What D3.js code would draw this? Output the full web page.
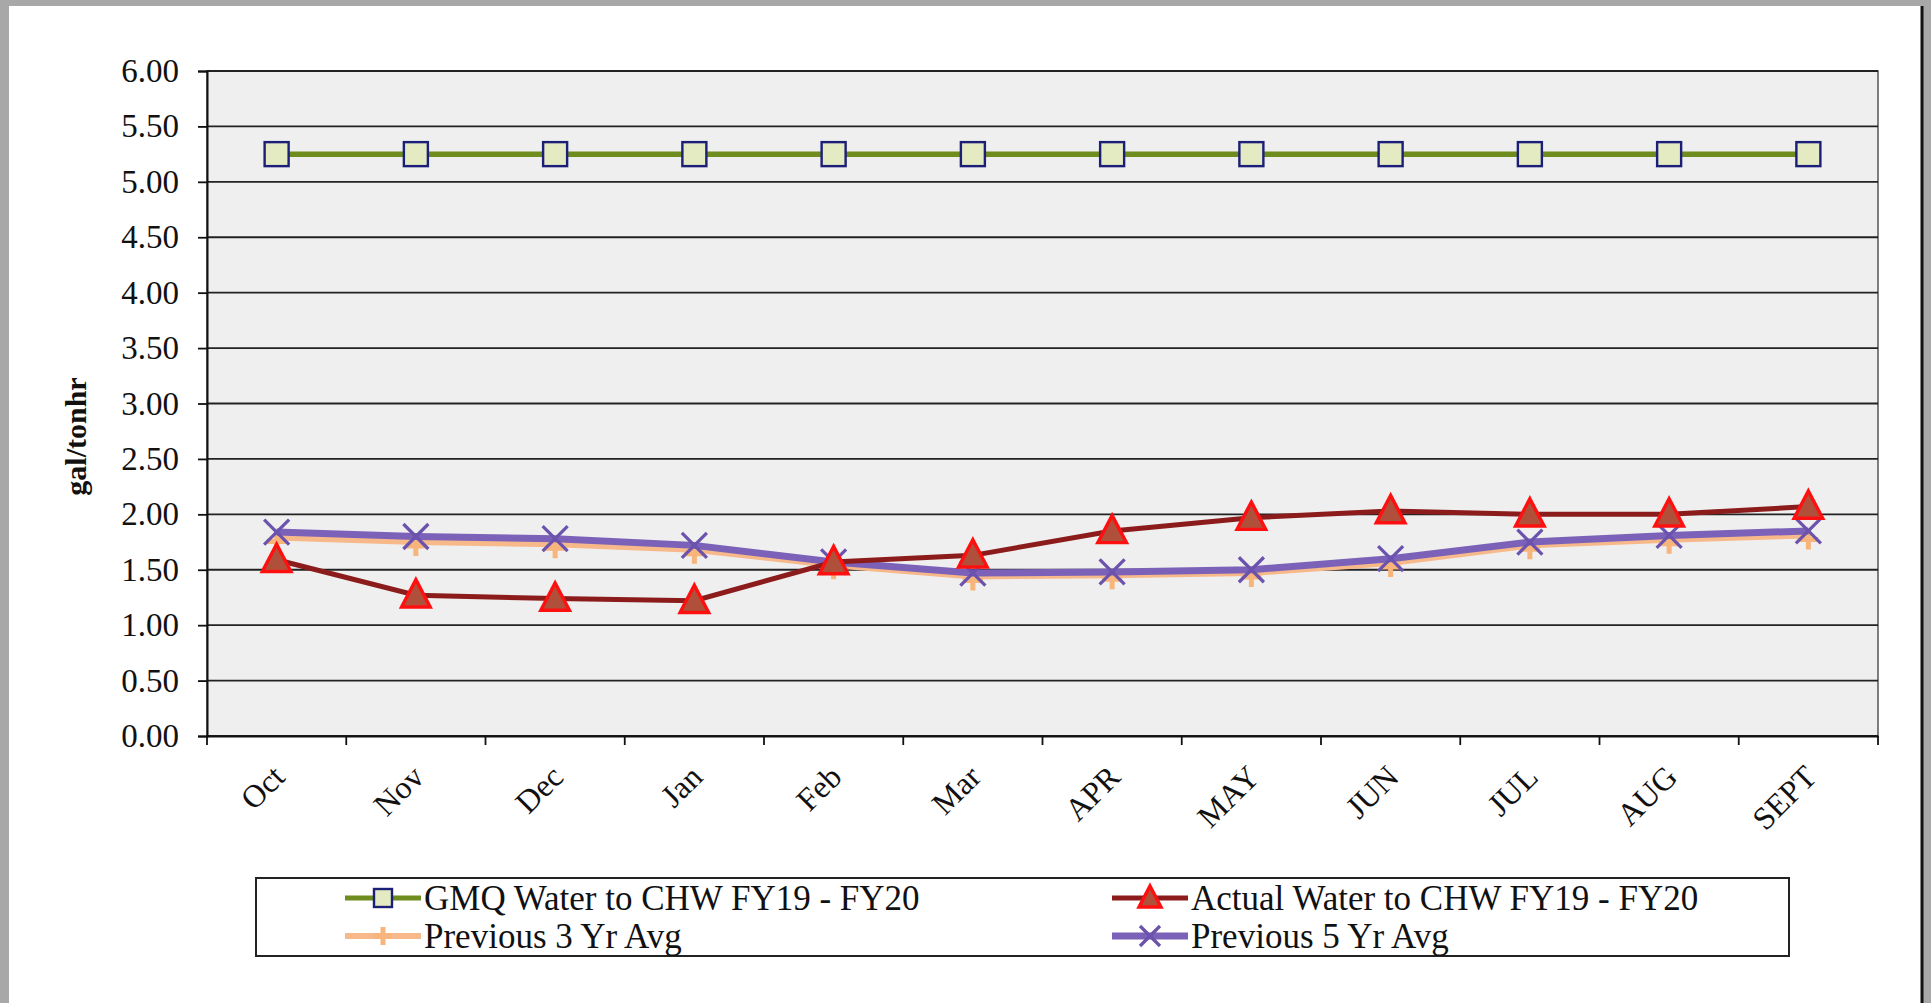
<!DOCTYPE html>
<html>
<head>
<meta charset="utf-8">
<script src="https://cdn.jsdelivr.net/npm/d3@7"></script>
<style>
  body { margin: 0; background: #a8a8a8; }
  svg { display: block; }
</style>
</head>
<body>
<svg id="svg"></svg>
<script>
// months of the fiscal year
const months = ["Oct", "Nov", "Dec", "Jan", "Feb", "Mar", "APR", "MAY", "JUN", "JUL", "AUG", "SEPT"];
const yTicks = [0, 0.5, 1, 1.5, 2, 2.5, 3, 3.5, 4, 4.5, 5, 5.5, 6];

// series values (gal/tonhr)
const gmq = [5.25, 5.25, 5.25, 5.25, 5.25, 5.25, 5.25, 5.25, 5.25, 5.25, 5.25, 5.25];
const actual = [1.59, 1.27, 1.24, 1.22, 1.57, 1.63, 1.85, 1.97, 2.03, 2.00, 2.00, 2.07];
const avg3 = [1.79, 1.75, 1.73, 1.68, 1.54, 1.44, 1.45, 1.47, 1.56, 1.72, 1.77, 1.81];
const avg5 = [1.84, 1.80, 1.78, 1.72, 1.57, 1.47, 1.48, 1.50, 1.60, 1.75, 1.81, 1.85];

const seriesNames = ["GMQ Water to CHW FY19 - FY20", "Actual Water to CHW FY19 - FY20", "Previous 3 Yr Avg", "Previous 5 Yr Avg"];

let width = 1931;
let height = 1003;
let svg = d3.select("#svg").attr("width", width).attr("height", height);

const font = "'Liberation Serif', 'Times New Roman', serif";

// page frame
svg.append("rect").attr("x", 0).attr("y", 0).attr("width", width).attr("height", height).attr("fill", "#a8a8a8");
svg.append("rect").attr("x", 9).attr("y", 6).attr("width", 1914).attr("height", height - 6).attr("fill", "#ffffff");
svg.append("line").attr("x1", 1922).attr("x2", 1922).attr("y1", 6).attr("y2", height)
    .attr("stroke", "#111").attr("stroke-width", 3);

let margin = { left: 207, right: 1878, top: 71, bottom: 736 };

let x = d3.scaleBand()
    .domain(months)
    .range([margin.left, margin.right]);

let y = d3.scaleLinear()
    .domain([0, 6])
    .range([margin.bottom, margin.top]);

// plot area
svg.append("rect")
    .attr("x", margin.left).attr("y", margin.top)
    .attr("width", margin.right - margin.left).attr("height", margin.bottom - margin.top)
    .attr("fill", "#efefef")
    .attr("stroke", "#555").attr("stroke-width", 1.5);

// gridlines
svg.append("g").selectAll("line")
    .data(yTicks)
    .join("line")
    .attr("x1", margin.left).attr("x2", margin.right)
    .attr("y1", d => y(d)).attr("y2", d => y(d))
    .attr("stroke", "#222").attr("stroke-width", 1.8);

// y axis
let yAxis = svg.append("g")
    .attr("transform", `translate(${margin.left},0)`)
    .call(d3.axisLeft(y).tickValues(yTicks).tickFormat(d3.format(".2f")).tickSize(9).tickPadding(19));
yAxis.select(".domain").attr("stroke", "#111").attr("stroke-width", 2);
yAxis.selectAll(".tick line").attr("stroke", "#111").attr("stroke-width", 1.8);
yAxis.selectAll(".tick text")
    .attr("font-family", font).attr("font-size", 33).attr("fill", "#111");

// x axis
let xAxis = svg.append("g")
    .attr("transform", `translate(0,${margin.bottom})`)
    .call(d3.axisBottom(x).tickSize(0).tickFormat(""));
xAxis.select(".domain").attr("stroke", "#111").attr("stroke-width", 2);

// x ticks at the category boundaries
let bounds = months.map(m => x(m)).concat([margin.right]);
svg.append("g").selectAll("line")
    .data(bounds)
    .join("line")
    .attr("x1", d => d).attr("x2", d => d)
    .attr("y1", margin.bottom).attr("y2", margin.bottom + 9)
    .attr("stroke", "#111").attr("stroke-width", 1.8);

svg.append("g").selectAll("text")
    .data(months)
    .join("text")
    .attr("transform", d => `translate(${x(d) + x.bandwidth() / 2 - 6},${margin.bottom + 27}) rotate(-45)`)
    .attr("text-anchor", "end")
    .attr("dy", "0.7em")
    .attr("font-family", font).attr("font-size", 32).attr("fill", "#111")
    .text(d => d);

// y label
svg.append("text")
    .attr("transform", `translate(86,${(margin.top + margin.bottom) / 2 + 33}) rotate(-90)`)
    .attr("text-anchor", "middle")
    .attr("font-family", font).attr("font-size", 30).attr("font-weight", "bold").attr("fill", "#111")
    .text("gal/tonhr");

let cx = (d, i) => x(months[i]) + x.bandwidth() / 2;
let line = d3.line().x((d, i) => cx(d, i)).y(d => y(d));

// markers
function square(g, px, py, s) {
    g.append("rect").attr("x", px - s / 2).attr("y", py - s / 2).attr("width", s).attr("height", s)
        .attr("fill", "#e4ebc2").attr("stroke", "#1c1f78").attr("stroke-width", 2.4);
}
function triangle(g, px, py, s) {
    g.append("path")
        .attr("d", `M${px},${py - s * 0.6}L${px + s * 0.55},${py + s * 0.45}L${px - s * 0.55},${py + s * 0.45}Z`)
        .attr("fill", "#b0503a").attr("stroke", "#ff1010").attr("stroke-width", 3.4).attr("stroke-linejoin", "miter");
}
function plus(g, px, py, s) {
    g.append("path")
        .attr("d", `M${px - s / 2},${py}L${px + s / 2},${py}M${px},${py - s / 2}L${px},${py + s / 2}`)
        .attr("stroke", "#f7b57c").attr("stroke-width", 5);
}
function cross(g, px, py, s) {
    g.append("path")
        .attr("d", `M${px - s / 2},${py - s / 2}L${px + s / 2},${py + s / 2}M${px + s / 2},${py - s / 2}L${px - s / 2},${py + s / 2}`)
        .attr("stroke", "#6a52ad").attr("stroke-width", 3.2);
}

// previous 3 yr avg
svg.append("path").datum(avg3).attr("d", line)
    .attr("fill", "none").attr("stroke", "#f7b98a").attr("stroke-width", 6);
let g3 = svg.append("g");
avg3.forEach((d, i) => plus(g3, cx(d, i), y(d) + 4, 20));

// previous 5 yr avg
svg.append("path").datum(avg5).attr("d", line)
    .attr("fill", "none").attr("stroke", "#7b62b8").attr("stroke-width", 7);
let g5 = svg.append("g");
avg5.forEach((d, i) => cross(g5, cx(d, i), y(d), 25));

// actual
svg.append("path").datum(actual).attr("d", line)
    .attr("fill", "none").attr("stroke", "#8c1c1c").attr("stroke-width", 5);
let ga = svg.append("g");
actual.forEach((d, i) => triangle(ga, cx(d, i), y(d), 26));

// gmq
svg.append("path").datum(gmq).attr("d", line)
    .attr("fill", "none").attr("stroke", "#6f8c1e").attr("stroke-width", 5.5);
let gg = svg.append("g");
gmq.forEach((d, i) => square(gg, cx(d, i), y(d), 24));

// legend
let legend = svg.append("g");
legend.append("rect")
    .attr("x", 256).attr("y", 878).attr("width", 1533).attr("height", 78)
    .attr("fill", "#fff").attr("stroke", "#222").attr("stroke-width", 2);

let legendItems = [
    { name: seriesNames[0], lx: 345, ly: 898, color: "#6f8c1e", w: 5, mark: square, ms: 18 },
    { name: seriesNames[1], lx: 1112, ly: 898, color: "#8c1c1c", w: 5, mark: triangle, ms: 20 },
    { name: seriesNames[2], lx: 345, ly: 936, color: "#f7b98a", w: 6, mark: plus, ms: 18 },
    { name: seriesNames[3], lx: 1112, ly: 936, color: "#7b62b8", w: 7, mark: cross, ms: 20 }
];
legendItems.forEach(it => {
    legend.append("line")
        .attr("x1", it.lx).attr("x2", it.lx + 76)
        .attr("y1", it.ly).attr("y2", it.ly)
        .attr("stroke", it.color).attr("stroke-width", it.w);
    it.mark(legend, it.lx + 38, it.ly, it.ms);
    legend.append("text")
        .attr("x", it.lx + 79).attr("y", it.ly)
        .attr("dy", "0.35em")
        .attr("font-family", font).attr("font-size", 35).attr("fill", "#111")
        .text(it.name);
});
</script>
</body>
</html>
